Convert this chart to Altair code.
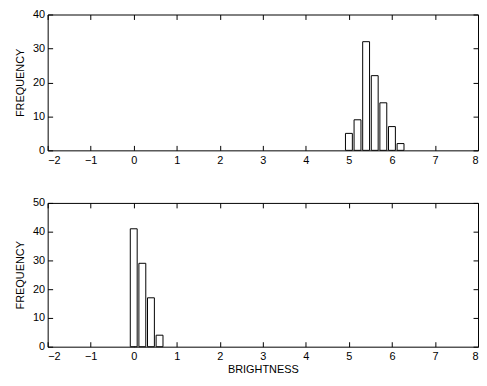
import altair as alt
import pandas as pd

# Top histogram
top_centers = [5.0, 5.2, 5.4, 5.6, 5.8, 6.0, 6.2]
top_counts = [5, 9, 32, 22, 14, 7, 2]
# Bottom histogram
bottom_centers = [0.0, 0.2, 0.4, 0.6]
bottom_counts = [41, 29, 17, 4]

x_ticks = [-2, -1, 0, 1, 2, 3, 4, 5, 6, 7, 8]
top_yticks = [0, 10, 20, 30, 40]
bottom_yticks = [0, 10, 20, 30, 40, 50]
half_width = 0.08

FONT = "Liberation Sans"
W = 434


def make_df(centers, counts):
    df = pd.DataFrame({"center": centers, "count": counts})
    df["lo"] = df["center"] - half_width
    df["hi"] = df["center"] + half_width
    df["base"] = 0
    return df


def panel(df, ymax, yticks, height, xtitle):
    xscale = alt.Scale(domain=[-2, 8], nice=False, zero=False, padding=0)
    yscale = alt.Scale(domain=[0, ymax], nice=False, padding=0)
    xaxis_kw = dict(orient="bottom", values=x_ticks, offset=-5, tickSize=5,
                    domain=False, grid=False, labelPadding=4, format="d",
                    titlePadding=2)
    xaxis_kw["title"] = xtitle if xtitle else None
    bars = alt.Chart(df).mark_bar(fill="white", stroke="black", strokeWidth=1).encode(
        x=alt.X("lo:Q", scale=xscale, axis=alt.Axis(**xaxis_kw)),
        x2="hi:Q",
        y=alt.Y("count:Q", scale=yscale,
                axis=alt.Axis(orient="left", values=yticks, offset=-5, tickSize=5,
                              domain=False, grid=False, labelPadding=3,
                              titlePadding=7, title="FREQUENCY", minExtent=0)),
        y2="base:Q",
    )
    ghost = alt.Chart(df).mark_point(opacity=0).encode(
        x=alt.X("lo:Q", scale=xscale,
                axis=alt.Axis(orient="top", values=x_ticks, offset=-5, tickSize=5,
                              domain=False, grid=False, labels=False, title=None)),
        y=alt.Y("count:Q", scale=yscale,
                axis=alt.Axis(orient="right", values=yticks, offset=-5, tickSize=5,
                              domain=False, grid=False, labels=False, title=None,
                              minExtent=0)),
    )
    return alt.layer(bars, ghost).resolve_axis(x="independent", y="independent").properties(
        width=W, height=height)


top = panel(make_df(top_centers, top_counts), 40, top_yticks, 137, None)
bottom = panel(make_df(bottom_centers, bottom_counts), 50, bottom_yticks, 145, "BRIGHTNESS")

chart = alt.vconcat(top, bottom, spacing=30).properties(
    padding={"top": -2, "left": 6, "right": 0, "bottom": 0}
).configure_view(
    stroke="black", strokeWidth=1
).configure_axis(
    labelFont=FONT, titleFont=FONT, labelFontSize=11, titleFontSize=11,
    labelColor="black", titleColor="black", tickColor="black",
    titleFontWeight="normal", tickWidth=1,
)

chart.save("out.html", embed_options={"renderer": "svg", "actions": False})
